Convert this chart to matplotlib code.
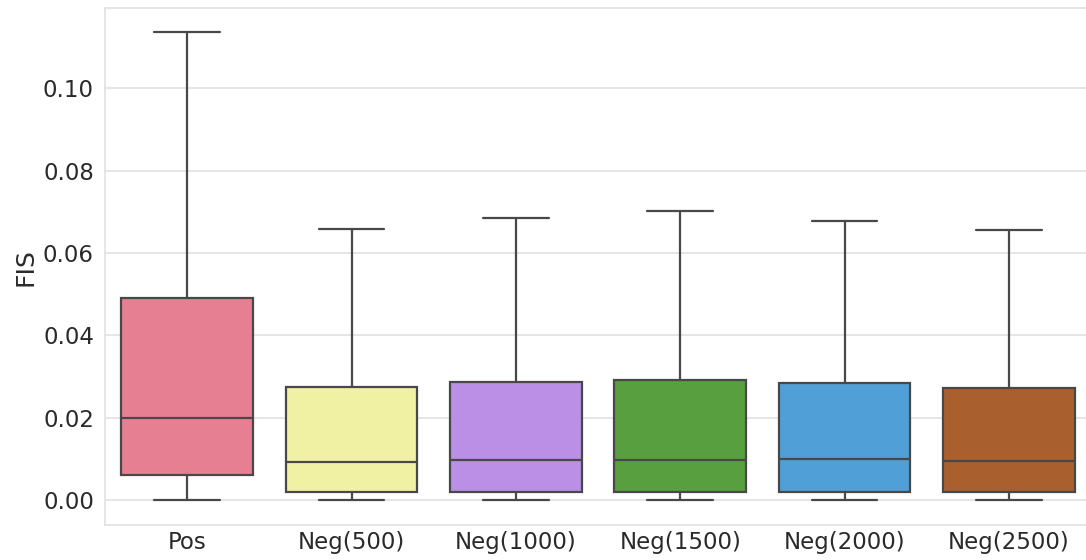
import matplotlib
matplotlib.use("Agg")
import matplotlib.pyplot as plt
import seaborn as sns

categories = ["Pos", "Neg(500)", "Neg(1000)", "Neg(1500)", "Neg(2000)", "Neg(2500)"]
whislo = [0.0, 0.0, 0.0, 0.0, 0.0, 0.0]
q1 = [0.0061, 0.0019, 0.0020, 0.0019, 0.0019, 0.0018]
med = [0.0199, 0.0092, 0.0097, 0.0097, 0.0100, 0.0095]
q3 = [0.0490, 0.0274, 0.0286, 0.0291, 0.0284, 0.0272]
whishi = [0.1136, 0.0658, 0.0686, 0.0701, 0.0677, 0.0655]
colors = ["#e77f92", "#f1f1a4", "#bb8fe5", "#58a03f", "#509fd6", "#a95f2e"]

sns.set_style("whitegrid")
plt.rcParams["font.family"] = ["DejaVu Sans"]

fig = plt.figure(figsize=(10.86, 5.6), dpi=100)
# the plot area runs slightly past the right edge of the canvas
ax = fig.add_axes([0.0967, 0.0625, 0.908, 0.9225])

stats = [dict(label=c, whislo=lo, q1=a, med=m, q3=b, whishi=hi)
         for c, lo, a, m, b, hi in zip(categories, whislo, q1, med, q3, whishi)]

edge = "#484848"
lw = 1.6
bp = ax.bxp(stats, positions=range(len(categories)), widths=0.8,
            showfliers=False, patch_artist=True,
            boxprops=dict(edgecolor=edge, linewidth=lw),
            medianprops=dict(color=edge, linewidth=lw),
            whiskerprops=dict(color=edge, linewidth=lw),
            capprops=dict(color=edge, linewidth=lw),
            capwidths=0.4)
for patch, col in zip(bp["boxes"], colors):
    patch.set_facecolor(col)

ax.set_xlim(-0.5, len(categories) - 0.5)
ax.set_ylim(-0.0061, 0.1194)
ax.set_yticks([0.0, 0.02, 0.04, 0.06, 0.08, 0.10])
ax.set_yticklabels(["0.00", "0.02", "0.04", "0.06", "0.08", "0.10"])
ax.set_xticks(range(len(categories)))
ax.set_xticklabels(categories)
ax.tick_params(axis="both", labelsize=16.5, colors="#2a2a2a", length=0)
ax.tick_params(axis="y", pad=8)
ax.tick_params(axis="x", pad=4)
ax.set_ylabel("FIS", fontsize=18, color="#2a2a2a", labelpad=4)
ax.grid(axis="x", visible=False)
ax.grid(axis="y", color="#e3e3e3", linewidth=1.3)
for s in ax.spines.values():
    s.set_color("#e3e3e3")
    s.set_linewidth(1.3)

fig.savefig("out.png", dpi=100)
